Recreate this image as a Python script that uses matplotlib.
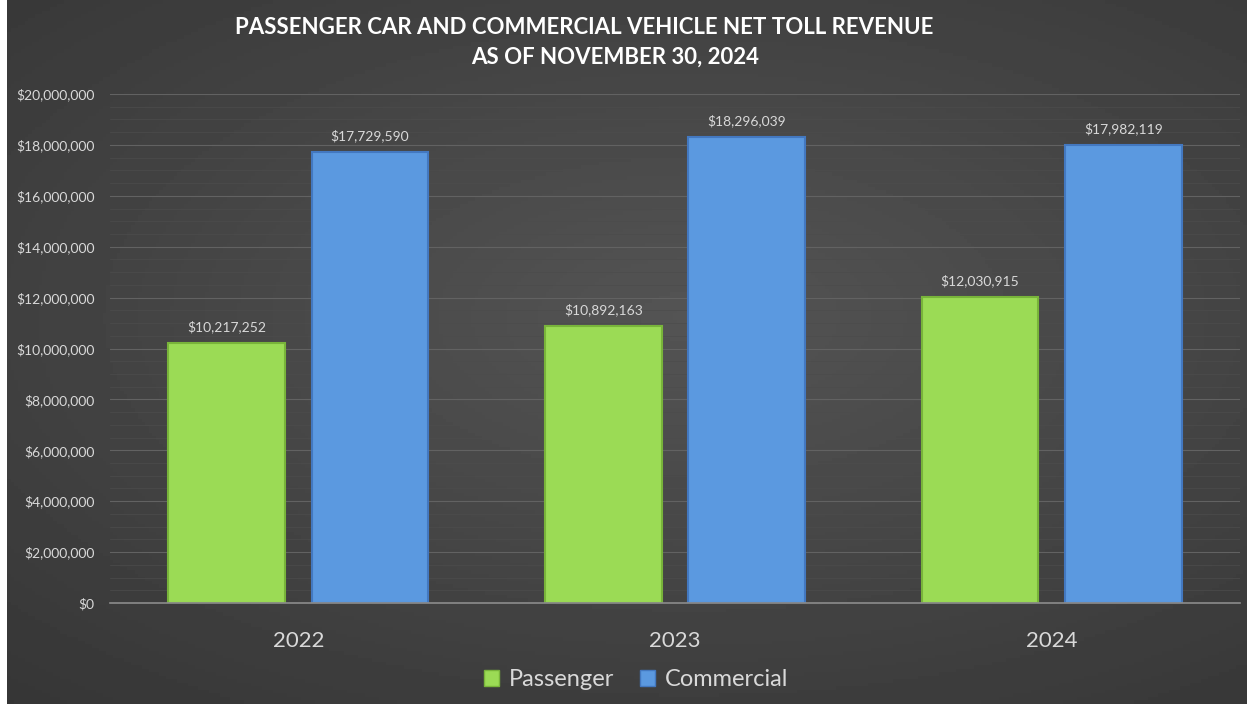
import numpy as np
import matplotlib.pyplot as plt
from matplotlib.ticker import FuncFormatter, MultipleLocator
from matplotlib.patches import Patch

# Chart data
years = ["2022", "2023", "2024"]
passenger = [10217252, 10892163, 12030915]
commercial = [17729590, 18296039, 17982119]

plt.rcParams['font.family'] = ['Lato', 'DejaVu Sans']

W, H = 1252, 704
fig = plt.figure(figsize=(W / 100, H / 100), dpi=100)
fig.patch.set_facecolor("white")

# Dark radial-ish gradient background
bg = fig.add_axes([7 / W, 0, (W - 12) / W, 1])
yy, xx = np.mgrid[0:1:200j, 0:1:350j]
r = np.sqrt(((xx - 0.55) / 0.9) ** 2 + ((yy - 0.45) / 0.8) ** 2)
shade = 0.33 - 0.13 * np.clip(r, 0, 1)
bg.imshow(shade, cmap="gray", vmin=0, vmax=1, aspect="auto", extent=[0, 1, 0, 1])
bg.set_axis_off()

# Plot area
ax = fig.add_axes([110 / W, 1 - 603 / H, 1130 / W, 509 / H])
ax.set_facecolor("none")
x = np.arange(len(years))
w = 0.31
off = 0.19
green = "#9bdb55"
blue = "#5b99e0"
b1 = ax.bar(x - off, passenger, w, color=green, edgecolor="#78b43a", linewidth=1.5, zorder=3)
b2 = ax.bar(x + off, commercial, w, color=blue, edgecolor="#4378c0", linewidth=1.5, zorder=3)

for bars, vals in ((b1, passenger), (b2, commercial)):
    for b, v in zip(bars, vals):
        ax.annotate(f"${v:,.0f}", (b.get_x() + b.get_width() / 2, v),
                    xytext=(0, 7), textcoords="offset points", ha="center", va="bottom",
                    color="#d9d9d9", fontsize=10)

ax.set_xlim(-0.5, 2.5)
ax.set_ylim(0, 20000000)
ax.yaxis.set_major_locator(MultipleLocator(2000000))
ax.yaxis.set_minor_locator(MultipleLocator(500000))
ax.yaxis.set_major_formatter(FuncFormatter(lambda v, p: f"${v:,.0f}"))
ax.grid(axis="y", which="major", color="#626262", linewidth=0.8, zorder=0)
ax.grid(axis="y", which="minor", color="#4c4c4c", linewidth=0.5, zorder=0)
ax.tick_params(axis="y", which="both", length=0, colors="#d9d9d9", labelsize=10, pad=11)
ax.tick_params(axis="x", length=0, colors="#d9d9d9", labelsize=16, pad=20)
ax.set_xticks(x)
ax.set_xticklabels(years)
for s in ["top", "right", "left"]:
    ax.spines[s].set_visible(False)
ax.spines["bottom"].set_color("#8c8c8c")
ax.spines["bottom"].set_linewidth(1.2)
ax.spines["bottom"].set_zorder(4)

# Title
fig.text(584 / W, 1 - 27 / H, "PASSENGER CAR AND COMMERCIAL VEHICLE NET TOLL REVENUE",
         ha="center", va="center", fontsize=16, fontweight="bold", color="white")
fig.text(615 / W, 1 - 57 / H, "AS OF NOVEMBER 30, 2024",
         ha="center", va="center", fontsize=16, fontweight="bold", color="white")

handles = [Patch(facecolor=green, edgecolor="#78b43a", label="Passenger"),
           Patch(facecolor=blue, edgecolor="#4378c0", label="Commercial")]
leg = fig.legend(handles=handles, loc="center", bbox_to_anchor=(636 / W, 1 - 680 / H),
                 ncol=2, frameon=False, fontsize=17, handlelength=0.65, handleheight=0.65,
                 handletextpad=0.4, columnspacing=1.1)
for t in leg.get_texts():
    t.set_color("#d9d9d9")

fig.savefig("out.png", dpi=100)
